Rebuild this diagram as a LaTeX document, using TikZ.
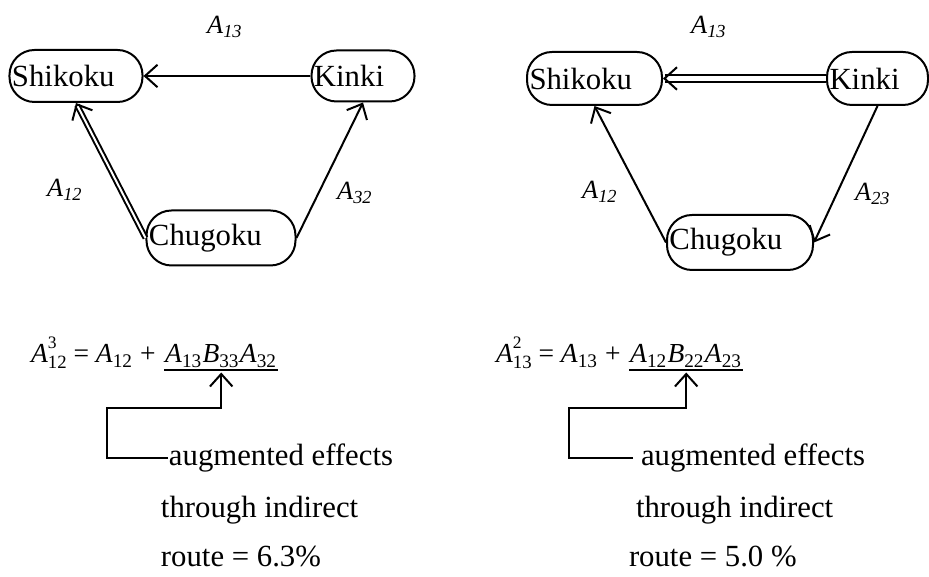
\documentclass[tikz,border=0pt]{standalone}
\usepackage{fontspec}
\setmainfont{Liberation Serif}
\usetikzlibrary{arrows.meta,positioning}

\newcommand{\supsub}[2]{\rlap{\raisebox{1.15ex}{\fontsize{7}{8}\selectfont #1}}\raisebox{-0.45ex}{\fontsize{7.5}{8}\selectfont #2}}

\begin{document}
\begin{tikzpicture}[x=0.4pt,y=-0.4pt,>={Straight Barb[length=5pt,width=9pt]},line width=0.8pt,
  font=\fontsize{12.3}{14}\selectfont,
  region/.style={draw,rounded corners=10pt,inner xsep=1pt,inner ysep=0pt,align=left,text width=#1},
  coef/.style={font=\fontsize{10.5}{12}\selectfont},
  eqn/.style={font=\fontsize{11}{13}\selectfont,inner sep=0pt},
  note/.style={anchor=base west,inner sep=0pt}]
  \useasboundingbox (0,0) rectangle (929,577);

  % Left network: route through Kinki
  \node[region=51.2pt,minimum height=20.8pt] (shikokuL) at (76,76) {Shikoku};
  \node[region=39.2pt,minimum height=20.4pt] (kinkiL) at (363,76) {Kinki};
  \node[region=57.6pt,minimum height=22pt] (chugokuL) at (221,238) {Chugoku};
  \draw[->] (kinkiL.west) -- (shikokuL.east);
  \draw[->,double,double distance=0.8pt] (chugokuL.west) -- (shikokuL.south);
  \draw[->] (chugokuL.east) -- (kinkiL.south);
  \node[coef] (a13L) at (225,27) {\textit{A}\textsubscript{\textit{13}}};
  \node[coef] (a12L) at (65,190) {\textit{A}\textsubscript{\textit{12}}};
  \node[coef] (a32L) at (355,193) {\textit{A}\textsubscript{\textit{32}}};

  % Right network: route through Chugoku
  \node[region=52pt,minimum height=21.2pt] (shikokuR) at (594.5,78.5) {Shikoku};
  \node[region=38.4pt,minimum height=21.2pt] (kinkiR) at (877.5,78.5) {Kinki};
  \node[region=56.4pt,minimum height=22pt] (chugokuR) at (740,242.5) {Chugoku};
  \draw[->,double,double distance=2pt] (kinkiR.west) -- (shikokuR.east);
  \draw[->] (chugokuR.west) -- (shikokuR.south);
  \draw[->] (kinkiR.south) -- (chugokuR.east);
  \node[coef] (a13R) at (709,27) {\textit{A}\textsubscript{\textit{13}}};
  \node[coef] (a12R) at (600,192) {\textit{A}\textsubscript{\textit{12}}};
  \node[coef] (a23R) at (873,194) {\textit{A}\textsubscript{\textit{23}}};

  % Left equation and note
  \node[eqn,anchor=base west] (eqL) at (30,363)
    {\textit{A}\supsub{3}{12} = \textit{A}\textsubscript{12} +};
  \node[eqn,base right=3pt of eqL,text depth=2.4pt] (indirL)
    {\textit{A}\textsubscript{13}\textit{B}\textsubscript{33}\textit{A}\textsubscript{32}};
  \draw (indirL.south west) -- (indirL.south east);
  \coordinate (kneeL) at (107,408);
  \node[note] (augL) at (168,466) {augmented effects};
  \node[note] (thruL) at (160,518) {through indirect};
  \node[note] (routeL) at (160,567) {route = 6.3\%};
  \draw[->,shorten >=1pt] (augL.west) -| (kneeL) -| (indirL.south);

  % Right equation and note
  \node[eqn,anchor=base west] (eqR) at (495,363)
    {\textit{A}\supsub{2}{13} = \textit{A}\textsubscript{13} +};
  \node[eqn,base right=3pt of eqR,text depth=2.4pt] (indirR)
    {\textit{A}\textsubscript{12}\textit{B}\textsubscript{22}\textit{A}\textsubscript{23}};
  \draw (indirR.south west) -- (indirR.south east);
  \coordinate (kneeR) at (569,408);
  \node[note] (augR) at (640,466) {augmented effects};
  \node[note] (thruR) at (635,518) {through indirect};
  \node[note] (routeR) at (628,567) {route = 5.0 \%};
  \draw[->,shorten >=1pt] ([xshift=-2.8pt]augR.west) -| (kneeR) -| (indirR.south);
\end{tikzpicture}
\end{document}
